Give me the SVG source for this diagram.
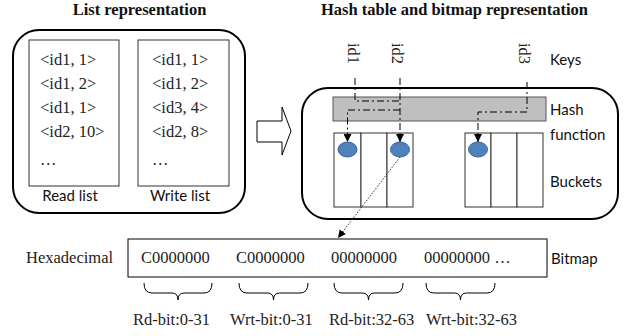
<svg xmlns="http://www.w3.org/2000/svg" width="624" height="336" viewBox="0 0 624 336">
<defs>
<style>
.serif{font-family:"Liberation Serif","Times New Roman",serif;font-size:16.5px;fill:#222}
.title{font-family:"Liberation Serif","Times New Roman",serif;font-size:16.5px;font-weight:bold;fill:#111}
.sans{font-family:Lato,"Liberation Sans",sans-serif;font-size:15px;fill:#111}
.outer{fill:none;stroke:#000;stroke-width:2}
.inner{fill:#fff;stroke:#333;stroke-width:1}
.dd{fill:none;stroke:#000;stroke-width:1;stroke-dasharray:7 3 2 3}
.dot{fill:none;stroke:#333;stroke-width:1;stroke-dasharray:1.5 1.5}
.brace{fill:none;stroke:#000;stroke-width:1}
.ball{fill:#4f81bd;stroke:#3a6496;stroke-width:1}
</style>
<marker id="ah" viewBox="0 0 10 10" refX="10" refY="5" markerWidth="8" markerHeight="8" markerUnits="userSpaceOnUse" orient="auto">
<path d="M0,0 L10,5 L0,10 Z" fill="#000"/>
</marker>
</defs>
<rect width="624" height="336" fill="#fff"/>

<text class="title" x="139.5" y="15" text-anchor="middle">List representation</text>
<text class="title" x="454.5" y="15" text-anchor="middle">Hash table and bitmap representation</text>

<g id="list-box">
<rect class="outer" x="13" y="30" width="232" height="183" rx="26"/>
</g>
<g id="read-list">
<rect class="inner" x="29" y="40" width="90" height="146"/>
<text class="serif" x="40" y="65">&lt;id1, 1&gt;</text>
<text class="serif" x="40" y="89">&lt;id1, 2&gt;</text>
<text class="serif" x="40" y="113">&lt;id1, 1&gt;</text>
<text class="serif" x="40" y="137">&lt;id2, 10&gt;</text>
<text class="serif" x="40" y="165">…</text>
<text class="sans" x="70" y="201" text-anchor="middle">Read list</text>
</g>
<g id="write-list">
<rect class="inner" x="138" y="40" width="91" height="146"/>
<text class="serif" x="152" y="65">&lt;id1, 1&gt;</text>
<text class="serif" x="152" y="89">&lt;id1, 2&gt;</text>
<text class="serif" x="152" y="113">&lt;id3, 4&gt;</text>
<text class="serif" x="152" y="137">&lt;id2, 8&gt;</text>
<text class="serif" x="152" y="165">…</text>
<text class="sans" x="180" y="201" text-anchor="middle">Write list</text>
</g>

<g id="block-arrow">
<path d="M257,121 H282 V107 L291,131 L282,155 V142 H257 Z" fill="#fff" stroke="#000" stroke-width="1"/>
</g>

<g id="hash-box">
<rect class="outer" x="302" y="88" width="316" height="131" rx="26"/>
</g>
<g id="keys">
<text class="serif" transform="translate(348,43) rotate(90)">id1</text>
<text class="serif" transform="translate(392,43) rotate(90)">id2</text>
<text class="serif" transform="translate(519,43) rotate(90)">id3</text>
<text class="sans" x="550" y="65">Keys</text>
</g>
<g id="hash-function">
<rect x="333" y="97" width="213" height="24" fill="#bfbfbf" stroke="#555" stroke-width="1"/>
<text class="sans" x="550" y="115">Hash</text>
<text class="sans" x="550" y="140">function</text>
</g>
<g id="buckets">
<rect class="inner" x="334" y="133" width="27" height="74"/>
<rect class="inner" x="361" y="133" width="26" height="74"/>
<rect class="inner" x="387" y="133" width="26" height="74"/>
<rect class="inner" x="465" y="133" width="26" height="74"/>
<rect class="inner" x="491" y="133" width="26" height="74"/>
<rect class="inner" x="517" y="133" width="26" height="74"/>
<ellipse class="ball" cx="347.5" cy="149.5" rx="9.5" ry="7.5"/>
<ellipse class="ball" cx="400" cy="149.5" rx="9.5" ry="7.5"/>
<ellipse class="ball" cx="478" cy="149.5" rx="9.5" ry="7.5"/>
<text class="sans" x="550" y="187">Buckets</text>
</g>

<g id="connectors">
<path class="dd" d="M355,78 V101 H400"/>
<path class="dd" d="M400,78 V142" marker-end="url(#ah)"/>
<path class="dd" d="M400,110 H347.5 V142" marker-end="url(#ah)"/>
<path class="dd" d="M527,82 V112 H478 V142" marker-end="url(#ah)"/>
<path class="dot" d="M400,157 L338,238" marker-end="url(#ah)"/>
</g>

<g id="bitmap">
<text class="serif" x="26" y="263">Hexadecimal</text>
<rect x="128" y="239" width="419" height="38" fill="#fff" stroke="#000" stroke-width="1"/>
<text class="serif" x="141" y="263">C0000000</text>
<text class="serif" x="236" y="263">C0000000</text>
<text class="serif" x="331" y="263">00000000</text>
<text class="serif" x="424" y="263">00000000 …</text>
<text class="sans" x="551" y="264">Bitmap</text>
</g>

<g id="braces">
<path class="brace" d="M144,283 Q144,293 152,293 H172 Q178,293 178,300 Q178,293 184,293 H204 Q212,293 212,283"/>
<path class="brace" d="M239,283 Q239,293 247,293 H267.5 Q273.5,293 273.5,300 Q273.5,293 279.5,293 H300 Q308,293 308,283"/>
<path class="brace" d="M334,283 Q334,293 342,293 H362.5 Q368.5,293 368.5,300 Q368.5,293 374.5,293 H395 Q403,293 403,283"/>
<path class="brace" d="M426,283 Q426,293 434,293 H454.5 Q460.5,293 460.5,300 Q460.5,293 466.5,293 H487 Q495,293 495,283"/>
</g>
<g id="brace-labels">
<text class="serif" x="133" y="325">Rd-bit:0-31</text>
<text class="serif" x="230" y="325">Wrt-bit:0-31</text>
<text class="serif" x="329" y="325">Rd-bit:32-63</text>
<text class="serif" x="426" y="325">Wrt-bit:32-63</text>
</g>
</svg>
